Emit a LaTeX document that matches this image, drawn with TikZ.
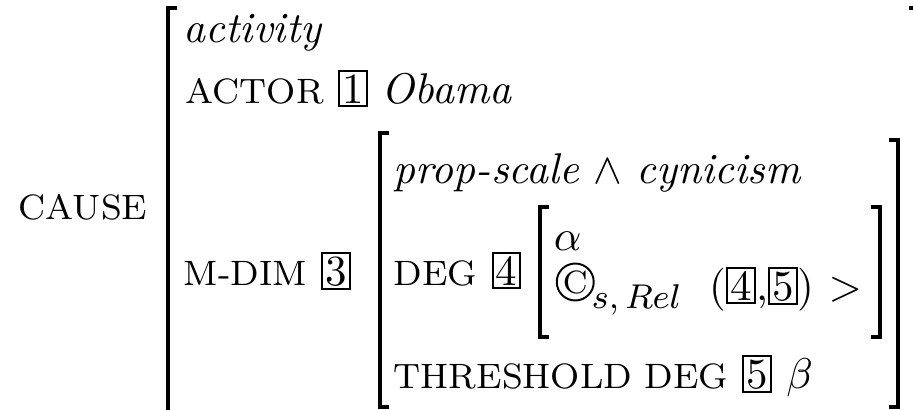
\documentclass[tikz,border=0pt]{standalone}
\usepackage{amssymb}

\newcommand{\avmtag}[1]{{\setlength{\fboxsep}{0.5pt}\setlength{\fboxrule}{0.45pt}\fbox{#1}}}
\newcommand{\feat}[1]{{\fontsize{8.2}{10}\selectfont #1}}

\begin{document}
\begin{tikzpicture}[
  x=0.2326pt, y=-0.2326pt,
  txt/.style={anchor=base west, inner sep=0pt},
  brk/.style={line width=0.85pt}
]
  \useasboundingbox (0,0) rectangle (913,409);
  \clip (0,0) rectangle (913,409);

  % Texte
  \node[txt] (cause) at (18,219) {\feat{CAUSE}};

  \node[txt] (act)   at (183,42)  {\textit{activity}};
  \node[txt] (actor) at (185,103) {\feat{ACTOR} \avmtag{1} \textit{Obama}};
  \node[txt] (mdim)  at (183,285) {\feat{M-DIM} \avmtag{3}};

  \node[txt] (prop)  at (393,183) {\textit{prop-scale} $\wedge$ \textit{cynicism}};
  \node[txt] (deg)   at (393,285) {\feat{DEG} \avmtag{4}};
  \node[txt] (thr)   at (393,388) {\feat{THRESHOLD DEG} \avmtag{5} $\beta$};

  \node[txt] (alpha) at (553,250) {$\alpha$};
  \node[txt] (cc)    at (562,293) {\fontsize{7.5}{9}\selectfont C};
  \node[txt] (rel)   at (591,300) {\raisebox{-2pt}{\fontsize{8.5}{10}\selectfont$s,Rel$}\ \ (\avmtag{4},\avmtag{5})\ $>$};
  \draw[line width=0.45pt] (cc.center) circle [radius=4.3pt];

  % Klammern
  \draw[brk] (177,8) -| (168,420);
  \draw[brk] (909,8) -- (916,8) -- (916,420);

  \draw[brk] (389,133) -| (380,407) -- (389,407);
  \draw[brk] (889,140) -| (898,407) -- (889,407);

  \draw[brk] (549,207) -| (540,337) -- (549,337);
  \draw[brk] (871,207) -| (880,337) -- (871,337);
\end{tikzpicture}
\end{document}
